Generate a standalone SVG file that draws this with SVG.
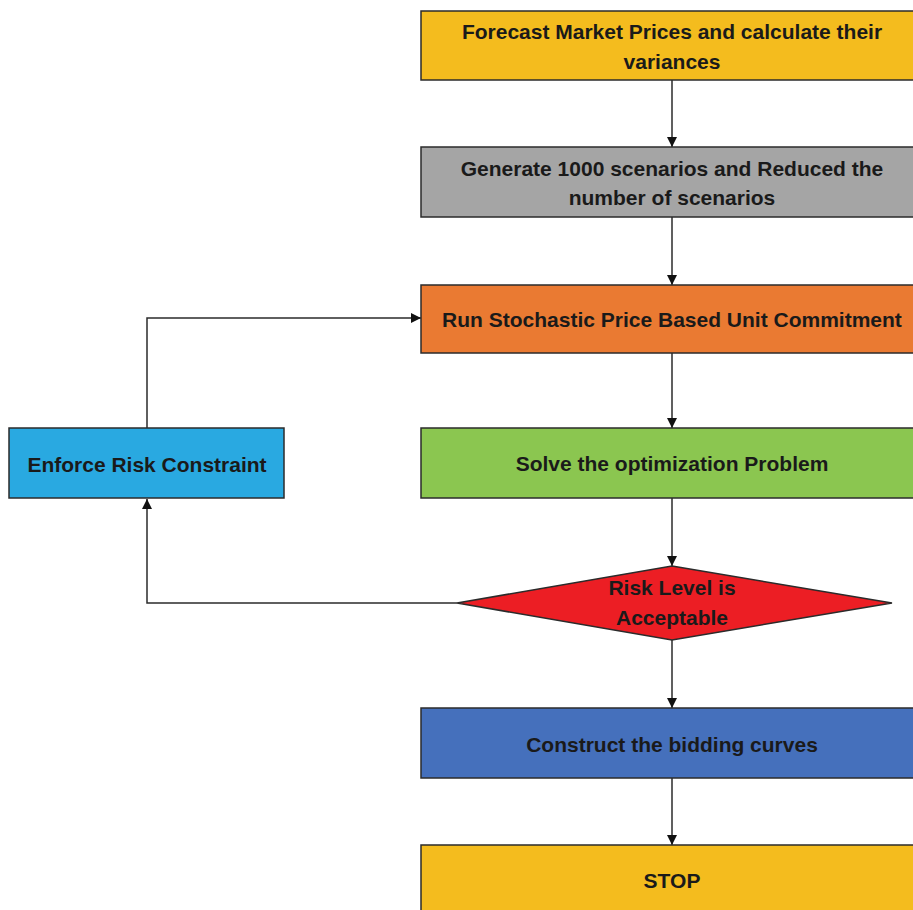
<svg xmlns="http://www.w3.org/2000/svg" width="913" height="910" viewBox="0 0 913 910">
<style>
.box{stroke:#2b2b2b;stroke-width:1.5}
.t{font-family:"Liberation Sans",Arial,sans-serif;font-size:21px;font-weight:bold;fill:#1a1a1a;text-anchor:middle;dominant-baseline:central}
.c{fill:none;stroke:#2b2b2b;stroke-width:1.5}
</style>
<defs>
<marker id="ah" viewBox="0 0 10 10" refX="10" refY="5" markerWidth="11" markerHeight="10" markerUnits="userSpaceOnUse" orient="auto">
<path d="M0,0 L10,5 L0,10 z" fill="#111"/>
</marker>
</defs>
<rect width="913" height="910" fill="#fff"/>
<g id="connectors">
<line class="c" x1="672" y1="80" x2="672" y2="147" marker-end="url(#ah)"/>
<line class="c" x1="672" y1="217" x2="672" y2="285" marker-end="url(#ah)"/>
<line class="c" x1="672" y1="353" x2="672" y2="428" marker-end="url(#ah)"/>
<line class="c" x1="672" y1="498" x2="672" y2="566" marker-end="url(#ah)"/>
<line class="c" x1="672" y1="640" x2="672" y2="708" marker-end="url(#ah)"/>
<line class="c" x1="672" y1="778" x2="672" y2="845" marker-end="url(#ah)"/>
<polyline class="c" points="457,603 147,603 147,499" marker-end="url(#ah)"/>
<polyline class="c" points="147,428 147,318 421,318" marker-end="url(#ah)"/>
</g>
<g id="forecast">
<rect class="box" x="421" y="11" width="500" height="69" fill="#F4BC1E"/>
<text class="t" x="672" y="31">Forecast Market Prices and calculate their</text>
<text class="t" x="672" y="61">variances</text>
</g>
<g id="generate">
<rect class="box" x="421" y="147" width="500" height="70" fill="#A5A5A5"/>
<text class="t" x="672" y="168">Generate 1000 scenarios and Reduced the</text>
<text class="t" x="672" y="197">number of scenarios</text>
</g>
<g id="run">
<rect class="box" x="421" y="285" width="500" height="68" fill="#EA7A32"/>
<text class="t" x="672" y="319">Run Stochastic Price Based Unit Commitment</text>
</g>
<g id="solve">
<rect class="box" x="421" y="428" width="500" height="70" fill="#8BC650"/>
<text class="t" x="672" y="463">Solve the optimization Problem</text>
</g>
<g id="risk">
<polygon class="box" points="672,566 892,603 672,640 457,603" fill="#EC1E24"/>
<text class="t" x="672" y="587">Risk Level is</text>
<text class="t" x="672" y="617">Acceptable</text>
</g>
<g id="enforce">
<rect class="box" x="9" y="428" width="275" height="70" fill="#29A9E1"/>
<text class="t" x="147" y="464">Enforce Risk Constraint</text>
</g>
<g id="construct">
<rect class="box" x="421" y="708" width="500" height="70" fill="#4570BC"/>
<text class="t" x="672" y="744">Construct the bidding curves</text>
</g>
<g id="stop">
<rect class="box" x="421" y="845" width="500" height="80" fill="#F4BC1E"/>
<text class="t" x="672" y="880">STOP</text>
</g>
</svg>
